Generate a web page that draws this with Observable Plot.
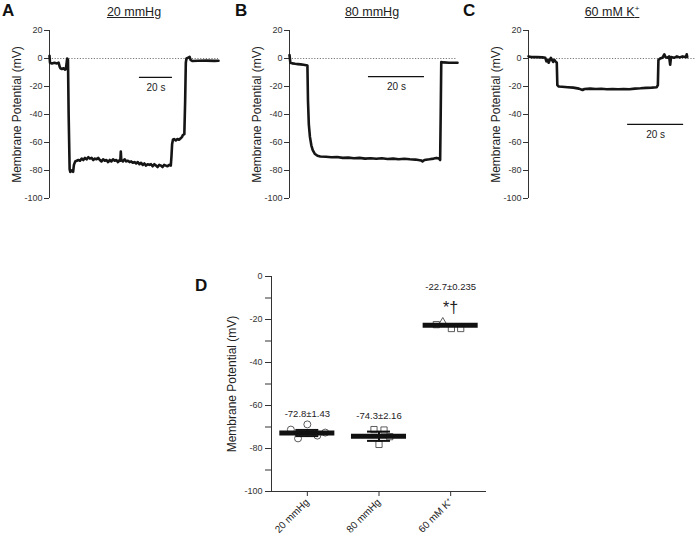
<!DOCTYPE html>
<html><head><meta charset="utf-8">
<script src="https://cdn.jsdelivr.net/npm/d3@7"></script>
<script src="https://cdn.jsdelivr.net/npm/@observablehq/plot@0.6"></script>
<style>
body{margin:0;background:#fff;font-family:"Liberation Sans",Arial,sans-serif;}
#root{position:relative;width:698px;height:541px;overflow:hidden;background:#fff;}
.panel{position:absolute;}
.letter{position:absolute;font-weight:bold;font-size:17px;line-height:1;color:#111;}
.title{position:absolute;font-size:12.5px;line-height:1;text-decoration:underline;color:#222;transform:translateX(-50%);white-space:nowrap;}
.title sup{font-size:8px;line-height:0;vertical-align:5px;}
</style></head><body><div id="root"></div>
<script>
const FONT = "Liberation Sans, Arial, sans-serif";
const yLabel = "Membrane Potential (mV)";
const traceTicks = [20, 0, -20, -40, -60, -80, -100];
const scaleSeconds = 20;

// Panel A: 20 mmHg (time s, potential mV)
const tA = [0,0.3,1.5,3,4.5,5.5,6.2,6.6,7.5,8.5,9.5,9.9,10.3,10.7,11.2,11.6,12.2,12.6,13.5,14.3,14.8,15.6,16.5,17.5,18.5,19.5,20.5,21.5,22.5,23.5,24.5,25.5,26.5,27.5,28.5,29.5,30.5,31.5,32.5,33.5,34.5,35.5,36.5,37.5,38.5,39.5,40.5,41.5,42.5,42.9,43.2,43.5,44.5,45.5,46.5,47.5,48.5,49.5,50.5,51.5,52.5,53.5,54.5,55.5,56.5,57.5,58.5,59.5,60.5,61.5,62.5,63.5,64.5,65.5,66.5,67.5,68.5,69.5,70.5,71.5,72.5,73.5,73.9,74.3,74.8,75.5,76.5,77.5,78.5,79.5,80.3,80.9,81.7,82.2,82.6,83,83.8,84.9,85.5,86.5,90,95,100,102.4];
const vA = [2,-3,-3.5,-3,-3.5,-3,-6,-7,-7.5,-7,-8,-7.5,-4,0,-1,-40,-79,-81,-80,-81,-76,-73.5,-73,-72.5,-73,-71.5,-72.5,-71,-72,-70.5,-71.5,-71,-72.5,-71.5,-72,-71,-72.5,-73.5,-72,-73,-72.5,-74,-72.5,-73.5,-72,-73,-72.5,-74,-72.5,-73,-66.5,-72.5,-73.5,-72,-73.5,-73,-74,-73.5,-74.5,-74,-75,-74,-75.5,-74.5,-76,-75,-76.5,-75.5,-76,-75.5,-77,-75.5,-76.5,-77.5,-76,-76.5,-77.5,-76,-76.5,-77,-76,-76.5,-70,-61,-58,-57.5,-58.5,-57.5,-58,-57,-56,-54.5,-54,-30,-3,0,0.5,1.2,-1,-1.8,-1.6,-1.5,-1.7,-1.6];
// Panel B: 80 mmHg
const tB = [0,0.3,1,2,3,4,5,6,6.4,6.6,6.9,7.3,7.8,8.3,9,10,11,13,15,17,19,21,23,25,27,29,31,33,35,37,39,41,43,45,47,47.5,48.2,50,51.5,52.5,53.4,53.8,54,54.2,55,57,60];
const vB = [2.5,-3,-3.5,-3.8,-4,-4.2,-4.5,-4.8,-5,-30,-47,-56,-62,-65.5,-68,-69.5,-70,-70.2,-70.5,-70.4,-71,-70.8,-71.2,-71,-71.5,-71.2,-71.6,-71.3,-71.8,-71.5,-72,-71.6,-72,-72.2,-72.8,-73.5,-72.5,-72,-71.5,-71,-71.5,-72.5,-40,-2.5,-2.8,-3,-3];
// Panel C: 60 mM K+
const tC = [0,1,3,5,6,6.4,6.8,7.2,7.6,8,8.4,8.8,9.2,9.6,10.1,10.3,10.8,12,14,16,18,19.3,20,22,24,26,28,30,32,34,36,38,40,42,44,45.8,46.2,46.4,47,47.8,48.5,48.9,49.6,50.2,50.6,50.9,52,53,54,55,56.2,56.5,56.7];
const vC = [1.5,1,1,0.8,0.5,-2,-1,-3,-1,0.5,-1,-2.5,-1,-2,-3,-19,-20,-20.2,-20.5,-20.8,-21.5,-22.5,-21.8,-21.5,-21.8,-21.6,-22,-21.8,-22,-21.8,-22,-21.5,-21.3,-21,-20.8,-20.5,-19,-1,0,0.5,3,1,0.5,1.5,-4.5,1,0.5,1.5,0.8,1.5,1,3,1];

// scale bars: start time (s) and level (mV)
const barA = {t: 54.5, v: -13.5};
const barB = {t: 28.2, v: -13};
const barC = {t: 35.4, v: -47};

// Panel D
const cats = ["20 mmHg", "80 mmHg", "60 mM K\u207A"];
const means = [-72.8, -74.3, -22.7];
const sems = [1.43, 2.16, 0.235];
const statText = ["-72.8\u00B11.43", "-74.3\u00B12.16", "-22.7\u00B10.235"];
const sigMarks = ["", "", "*\u2020"];
const cells20 = [-71.2, -68.8, -75.3, -74.0, -72.6];
const jitter20 = [-0.23, 0.0, -0.13, 0.14, 0.25];
const cells80 = [-71.2, -71.4, -78.1, -74.5];
const jitter80 = [-0.07, 0.07, 0.0, 0.15];
const cells60 = [-21.6, -24.2, -24.2, -22.4];
const jitter60 = [-0.11, 0.01, 0.14, -0.2];
const sym60 = ["triangle", "square", "square", "square"];
const dTicks = [0, -20, -40, -60, -80, -100];
const dMinor = [-10, -30, -50, -70, -90];

const root = document.getElementById("root");
function place(node, left, top) {
  node.classList.add("panel");
  node.style.left = left + "px";
  node.style.top = top + "px";
  root.appendChild(node);
}
function html(cls, left, top, content) {
  const d = document.createElement("div");
  d.className = cls;
  d.style.left = left + "px";
  d.style.top = top + "px";
  d.innerHTML = content;
  root.appendChild(d);
}

function tracePanel({t, v, xMax, width, ml, mr, bar}) {
  const data = t.map((d, i) => ({t: d, v: v[i]}));
  return Plot.plot({
    width, height: 210, marginLeft: ml, marginRight: mr, marginTop: 30, marginBottom: 12,
    style: {fontFamily: FONT, fontSize: "9px", color: "#333", background: "none", overflow: "visible"},
    x: {domain: [0, xMax], axis: null},
    y: {domain: [-100, 20], axis: null},
    marks: [
      Plot.ruleY([0], {stroke: "#555", strokeWidth: 0.8, strokeDasharray: "1.2,1.6"}),
      Plot.axisY({ticks: traceTicks, tickFormat: d => String(d), tickSize: 5, tickPadding: 2, label: null, stroke: "#333", fill: "#333"}),
      Plot.ruleX([0], {stroke: "#333", strokeWidth: 1}),
      Plot.text([yLabel], {text: d => d, frameAnchor: "left", textAnchor: "middle", dx: -32, rotate: -90, fontSize: 12, fill: "#222"}),
      Plot.line(data, {x: "t", y: "v", stroke: "#151515", strokeWidth: 2.6, strokeLinejoin: "round", strokeLinecap: "round"}),
      Plot.ruleY([bar], {y: d => d.v, x1: d => d.t, x2: d => d.t + scaleSeconds, stroke: "#111", strokeWidth: 1.2}),
      Plot.text([bar], {x: d => d.t + scaleSeconds / 2, y: d => d.v, dy: 10.5, text: () => scaleSeconds + " s", fontSize: 10, fill: "#222"})
    ]
  });
}

place(tracePanel({t: tA, v: vA, xMax: 102.4, width: 230, ml: 49, mr: 12, bar: barA}), 0, 0);
place(tracePanel({t: tB, v: vB, xMax: 60, width: 230, ml: 59, mr: 3, bar: barB}), 230, 0);
place(tracePanel({t: tC, v: vC, xMax: 60, width: 238, ml: 68, mr: 2, bar: barC}), 460, 0);

html("letter", 2, 2, "A");
html("letter", 235, 2, "B");
html("letter", 463, 2, "C");
html("letter", 195, 277, "D");
html("title", 134, 6, "20 mmHg");
html("title", 372, 6, "80 mmHg");
html("title", 612, 6, "60 mM K<sup>+</sup>");

// Panel D
const summary = cats.map((c, i) => ({i, mean: means[i], sem: sems[i], stat: statText[i], sig: sigMarks[i]}));
const points = [
  ...cells20.map((v, k) => ({x: 0 + jitter20[k], v, sym: "circle"})),
  ...cells80.map((v, k) => ({x: 1 + jitter80[k], v, sym: "square"})),
  ...cells60.map((v, k) => ({x: 2 + jitter60[k], v, sym: sym60[k]}))
];
const barHalf = 0.384, capHalf = 0.16;
const xDom = [-0.5, cats.length - 0.5];
const dotMarks = ["circle", "square", "triangle"].map(s =>
  Plot.dot(points.filter(p => p.sym === s), {x: "x", y: "v", symbol: s, r: 3.5, fill: "white", stroke: "#333", strokeWidth: 0.8}));

const plotD = Plot.plot({
  width: 300, height: 276, marginLeft: 71, marginRight: 14, marginTop: 11, marginBottom: 50,
  style: {fontFamily: FONT, fontSize: "9px", color: "#333", background: "none", overflow: "visible"},
  x: {domain: xDom, axis: null},
  y: {domain: [-100, 0], axis: null},
  marks: [
    Plot.axisY({ticks: dTicks, tickFormat: d => String(d), tickSize: 6, tickPadding: 3, label: null, stroke: "#333", fill: "#333"}),
    Plot.axisY({ticks: dMinor, tickFormat: null, tickSize: 6, label: null, stroke: "#333", text: null}),
    Plot.axisX({ticks: cats.map((c, i) => i), tickFormat: i => cats[i], tickRotate: -45, tickSize: 5, tickPadding: 4, label: null, fontSize: 10, stroke: "#333", fill: "#222"}),
    Plot.ruleX([xDom[0]], {stroke: "#333"}),
    Plot.ruleY([-100], {stroke: "#333"}),
    Plot.text([yLabel], {text: d => d, frameAnchor: "left", textAnchor: "middle", dx: -39, rotate: -90, fontSize: 12, fill: "#222"}),
    ...dotMarks,
    Plot.ruleX(summary, {x: "i", y1: d => d.mean - d.sem, y2: d => d.mean + d.sem, stroke: "#111", strokeWidth: 2}),
    Plot.ruleY(summary, {y: d => d.mean - d.sem, x1: d => d.i - capHalf, x2: d => d.i + capHalf, stroke: "#111", strokeWidth: 2}),
    Plot.ruleY(summary, {y: d => d.mean + d.sem, x1: d => d.i - capHalf, x2: d => d.i + capHalf, stroke: "#111", strokeWidth: 2}),
    Plot.ruleY(summary, {y: "mean", x1: d => d.i - barHalf, x2: d => d.i + barHalf, stroke: "#111", strokeWidth: 5}),
    Plot.text(summary.filter(d => !d.sig), {x: "i", y: d => d.mean + d.sem, dy: -16, text: "stat", fontSize: 9.5, fill: "#222"}),
    Plot.text(summary.filter(d => d.sig), {x: "i", y: d => d.mean + d.sem, dy: -17, text: "sig", fontSize: 16, fill: "#222"}),
    Plot.text(summary.filter(d => d.sig), {x: "i", y: d => d.mean + d.sem, dy: -38, text: "stat", fontSize: 9.5, fill: "#222"})
  ]
});
place(plotD, 200, 265);
</script>
</body></html>
